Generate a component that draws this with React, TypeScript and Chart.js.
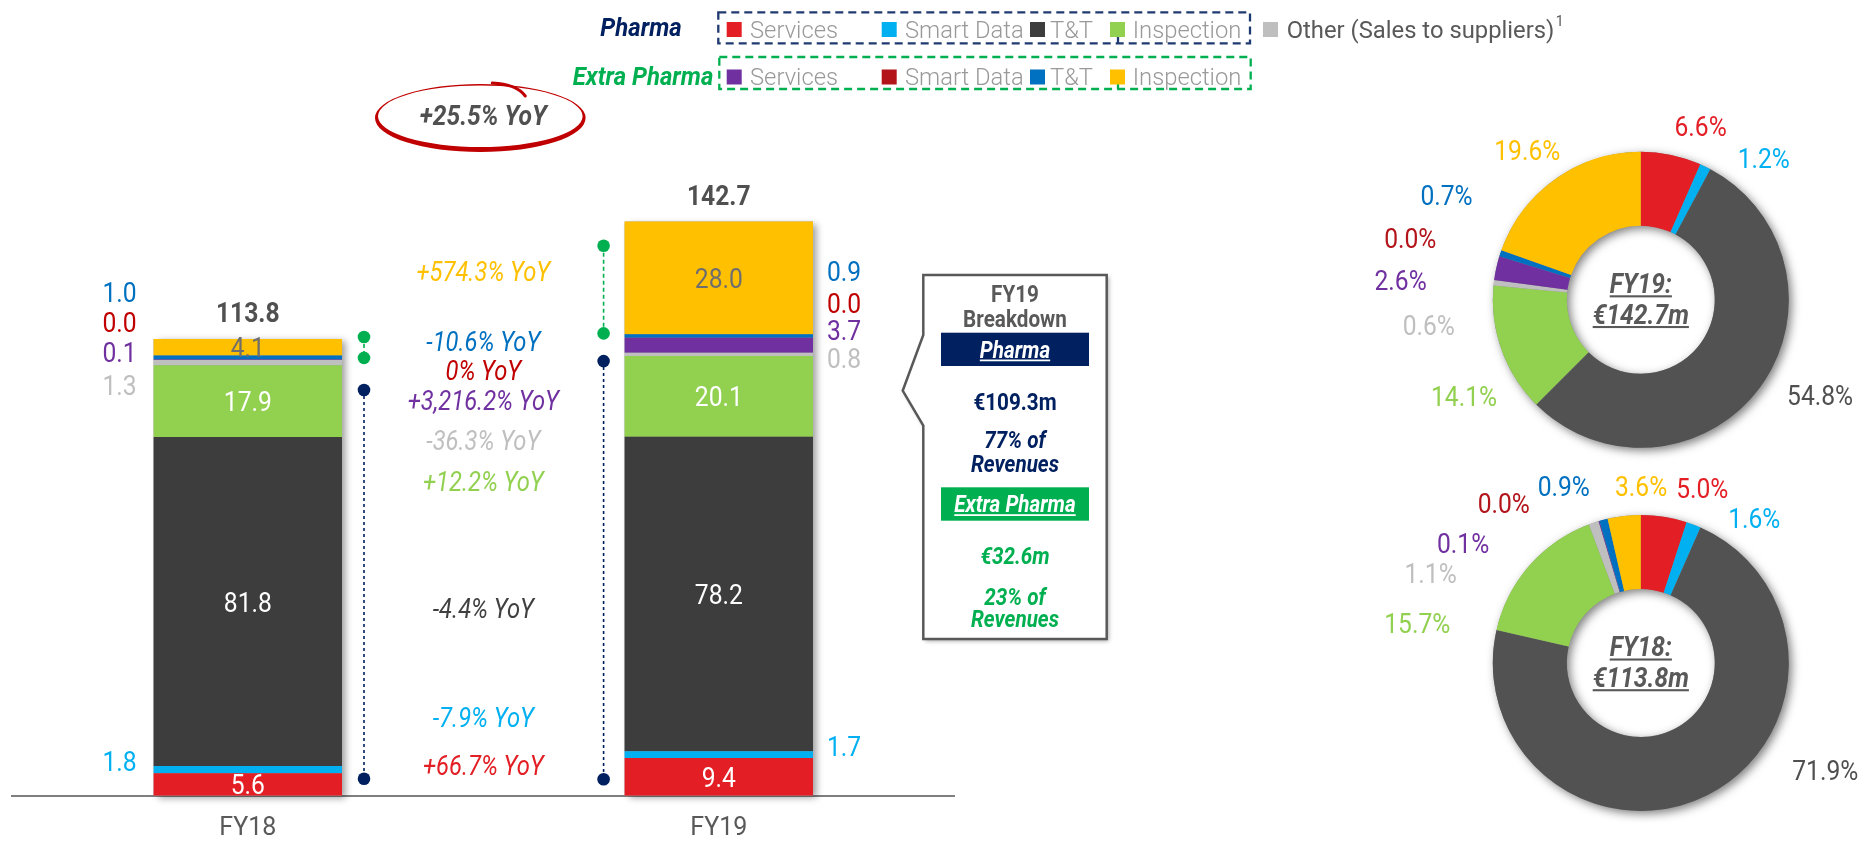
import React, { useEffect, useRef } from 'react';
import { Chart, registerables } from 'chart.js';

Chart.register(...registerables);

// ---------------- data ----------------
const categories = ['FY18', 'FY19'];
const pharmaServices = [5.6, 9.4];
const pharmaSmartData = [1.8, 1.7];
const pharmaTT = [81.8, 78.2];
const pharmaInspection = [17.9, 20.1];
const otherSales = [1.3, 0.8];
const extraServices = [0.1, 3.7];
const extraSmartData = [0.0, 0.0];
const extraTT = [1.0, 0.9];
const extraInspection = [4.1, 28.0];
const totals = [113.8, 142.7];
const yoyGrowth = ['+66.7%', '-7.9%', '-4.4%', '+12.2%', '-36.3%', '+3,216.2%', '0%', '-10.6%', '+574.3%'];
const totalGrowth = '+25.5%';
const fy19Share = [6.6, 1.2, 54.8, 14.1, 0.6, 2.6, 0.0, 0.7, 19.6];
const fy18Share = [5.0, 1.6, 71.9, 15.7, 1.1, 0.1, 0.0, 0.9, 3.6];
const breakdownSegments = ['Pharma', 'Extra Pharma'];
const breakdownValues = [109.3, 32.6];
const breakdownShares = [77, 23];
const seriesNames = ['Services', 'Smart Data', 'T&T', 'Inspection', 'Other (Sales to suppliers)', 'Services', 'Smart Data', 'T&T', 'Inspection'];
const seriesValues = [pharmaServices, pharmaSmartData, pharmaTT, pharmaInspection, otherSales, extraServices, extraSmartData, extraTT, extraInspection];

// ---------------- styles / layout ----------------
const W = 1865;
const H = 844;
const BAR_H = 861; // bar canvas is slightly taller; bottom part is clipped by the page
const FONT = 'Roboto';
const SX = 0.88;
const barColors = ['#E31E24', '#00B0F0', '#3D3D3D', '#92D050', '#BFBFBF', '#7030A0', '#B2141A', '#0070C0', '#FFC000'];
const donutColors = ['#E31E24', '#00B0F0', '#525252', '#92D050', '#BFBFBF', '#7030A0', '#B2141A', '#0070C0', '#FFC000'];
const textColors = ['#E31E24', '#00B0F0', '#404040', '#92D050', '#BFBFBF', '#7030A0', '#C00000', '#0070C0', '#FFC000'];
const donutTextColors = ['#E31E24', '#00B0F0', '#505050', '#92D050', '#BFBFBF', '#7030A0', '#B2141A', '#0070C0', '#FFC000'];
const insideLabel: (string | null)[] = ['#FFFFFF', null, '#FFFFFF', '#FFFFFF', null, null, null, null, '#6E6E6E'];
// anchors (value units) of the labels placed beside thin segments
const sideLabelY: Record<number, number>[] = [
  { 1: 8.6, 4: 102.1, 5: 110.4, 6: 117.8, 7: 125.3 },
  { 1: 12.3, 4: 108.9, 5: 115.8, 6: 122.6, 7: 130.6 },
];
const yoyY = [7.6, 19.6, 46.6, 78.1, 88.4, 98.4, 105.8, 112.9, 130.3];
const extraDots = [[114.1, 108.9], [136.8, 115.0]];
const pharmaDots = [[100.9, 4.25], [108.1, 4.1]];
const fy19LabelPos = [[59.8, -173.3], [123, -141.7], [179.3, 95], [-176.8, 96], [-212, 25], [-240.2, -19.3], [-230.5, -61.7], [-194.3, -105], [-113.5, -150]];
const fy18LabelPos = [[61.5, -174.7], [113.5, -144.7], [184.5, 107], [-223.5, -40.3], [-210.2, -90.3], [-177.7, -119.7], [-137, -159.7], [-77, -177.3], [0.3, -177.3]];

type TOpt = { size: number; weight?: number; italic?: boolean; color: string; align?: CanvasTextAlign; sx?: number; underline?: boolean };

function drawText(ctx: CanvasRenderingContext2D, s: string, x: number, y: number, o: TOpt) {
  ctx.save();
  const sx = o.sx ?? SX;
  const align = o.align ?? 'center';
  ctx.font = `${o.italic ? 'italic ' : ''}${o.weight ?? 400} ${o.size}px ${FONT}`;
  ctx.fillStyle = o.color;
  ctx.textAlign = align;
  ctx.textBaseline = 'alphabetic';
  ctx.translate(x, y + o.size * 0.355);
  ctx.scale(sx, 1);
  ctx.fillText(s, 0, 0);
  const w = ctx.measureText(s).width;
  if (o.underline) {
    const x0 = align === 'center' ? -w / 2 : align === 'right' || align === 'end' ? -w : 0;
    ctx.fillRect(x0, o.size * 0.08, w, Math.max(1.6, o.size * 0.075));
  }
  ctx.restore();
  return w * sx;
}

function drawLegend(ctx: CanvasRenderingContext2D) {
  const rows = [
    { title: 'Pharma', color: '#002060', boxColor: '#1F3A70', right: 681.7, y: 29.5, ty: 27, box: [718.3, 12.3, 1250, 43.3], idx: [0, 1, 2, 3] },
    { title: 'Extra Pharma', color: '#00B050', boxColor: '#00B050', right: 713.3, y: 77, ty: 75.5, box: [719.3, 57, 1250.7, 89], idx: [5, 6, 7, 8] },
  ];
  const sqX = [726.7, 881.7, 1030, 1110];
  const txX = [750, 905, 1050, 1132.7];
  rows.forEach((r) => {
    drawText(ctx, r.title, r.right, r.ty, { size: 26, weight: 700, italic: true, color: r.color, align: 'right', sx: 0.92 });
    ctx.save();
    ctx.setLineDash([8, 5]);
    ctx.lineWidth = 2.3;
    ctx.strokeStyle = r.boxColor;
    ctx.strokeRect(r.box[0], r.box[1], r.box[2] - r.box[0], r.box[3] - r.box[1]);
    ctx.setLineDash([]);
    ctx.beginPath();
    ctx.moveTo(1118, r.box[3] - 9);
    ctx.lineTo(1118, r.box[3]);
    ctx.stroke();
    ctx.restore();
    r.idx.forEach((d, k) => {
      ctx.fillStyle = barColors[d];
      ctx.fillRect(sqX[k], r.y - 7.5, 15, 15);
      drawText(ctx, seriesNames[d], txX[k], r.y, { size: 23.8, weight: 300, color: '#999999', align: 'left', sx: 1 });
    });
  });
  ctx.fillStyle = '#BFBFBF';
  ctx.fillRect(1263, 22, 15, 15);
  const w = drawText(ctx, seriesNames[4], 1286.7, 29.5, { size: 23.8, color: '#595959', align: 'left', sx: 1 });
  drawText(ctx, '1', 1286.7 + w + 1.5, 21, { size: 14, color: '#595959', align: 'left', sx: 1 });
}

function drawEllipse(ctx: CanvasRenderingContext2D, cx: number) {
  ctx.save();
  ctx.fillStyle = '#C00000';
  ctx.beginPath();
  ctx.ellipse(cx, 118, 105.3, 34, 0, 0, Math.PI * 2);
  ctx.closePath();
  ctx.moveTo(cx + 102.3, 116.2);
  ctx.ellipse(cx, 116.2, 102.3, 30.8, 0, 0, Math.PI * 2);
  ctx.closePath();
  ctx.fill('evenodd');
  ctx.strokeStyle = '#C00000';
  ctx.lineWidth = 3;
  ctx.lineCap = 'round';
  ctx.beginPath();
  ctx.moveTo(cx + 12, 83);
  ctx.quadraticCurveTo(cx + 36, 84, cx + 45, 96);
  ctx.stroke();
  ctx.restore();
}

function drawCallout(ctx: CanvasRenderingContext2D) {
  const L = 923.3, R = 1106.7, T = 275, B = 639;
  ctx.save();
  ctx.beginPath();
  ctx.moveTo(L, T);
  ctx.lineTo(R, T);
  ctx.lineTo(R, B);
  ctx.lineTo(L, B);
  ctx.lineTo(L, 425.7);
  ctx.lineTo(902.7, 390.7);
  ctx.lineTo(L, 335);
  ctx.closePath();
  ctx.fillStyle = '#FFFFFF';
  ctx.shadowColor = 'rgba(0,0,0,0.35)';
  ctx.shadowBlur = 4;
  ctx.shadowOffsetX = 2;
  ctx.shadowOffsetY = 2;
  ctx.fill();
  ctx.shadowColor = 'transparent';
  ctx.lineWidth = 2.5;
  ctx.strokeStyle = '#595959';
  ctx.stroke();
  ctx.restore();
  const cx = (L + R) / 2;
  const f = { size: 23.5, weight: 700 };
  drawText(ctx, categories[1], cx, 293.3, { ...f, color: '#595959' });
  drawText(ctx, 'Breakdown', cx, 318.3, { ...f, color: '#595959' });
  ctx.fillStyle = '#002060';
  ctx.fillRect(941, 332.7, 148, 33.3);
  drawText(ctx, breakdownSegments[0], cx, 349.3, { ...f, italic: true, underline: true, color: '#FFFFFF' });
  drawText(ctx, `€${breakdownValues[0].toFixed(1)}m`, cx, 401.7, { ...f, color: '#002060' });
  drawText(ctx, `${breakdownShares[0]}% of`, cx, 440, { ...f, italic: true, color: '#002060' });
  drawText(ctx, 'Revenues', cx, 463.3, { ...f, italic: true, color: '#002060' });
  ctx.fillStyle = '#00B050';
  ctx.fillRect(941, 487.3, 148, 33.4);
  drawText(ctx, breakdownSegments[1], cx, 504, { ...f, italic: true, underline: true, color: '#FFFFFF' });
  drawText(ctx, `€${breakdownValues[1].toFixed(1)}m`, cx, 556, { ...f, italic: true, color: '#00B050' });
  drawText(ctx, `${breakdownShares[1]}% of`, cx, 596.7, { ...f, italic: true, color: '#00B050' });
  drawText(ctx, 'Revenues', cx, 618.3, { ...f, italic: true, color: '#00B050' });
}

function drawDot(ctx: CanvasRenderingContext2D, x: number, y: number, color: string) {
  ctx.beginPath();
  ctx.arc(x, y, 6.3, 0, Math.PI * 2);
  ctx.fillStyle = color;
  ctx.fill();
}

function drawDotLine(ctx: CanvasRenderingContext2D, x: number, y1: number, y2: number, color: string, dash: number[]) {
  ctx.save();
  ctx.strokeStyle = color;
  ctx.lineWidth = 1.6;
  ctx.setLineDash(dash);
  ctx.beginPath();
  ctx.moveTo(x, y1);
  ctx.lineTo(x, y2);
  ctx.stroke();
  ctx.restore();
  drawDot(ctx, x, y1, color);
  drawDot(ctx, x, y2, color);
}

const barDecor = {
  id: 'barDecor',
  beforeDatasetsDraw(chart: any) {
    const ctx: CanvasRenderingContext2D = chart.ctx;
    const n = chart.data.datasets.length;
    const m0 = chart.getDatasetMeta(0);
    const mN = chart.getDatasetMeta(n - 1);
    m0.data.forEach((b0: any, i: number) => {
      const bt: any = mN.data[i];
      ctx.save();
      ctx.shadowColor = 'rgba(0,0,0,0.38)';
      ctx.shadowBlur = 7;
      ctx.shadowOffsetX = 4;
      ctx.shadowOffsetY = 2;
      ctx.fillStyle = '#999999';
      ctx.fillRect(b0.x - b0.width / 2, bt.y, b0.width, b0.base - bt.y);
      ctx.restore();
    });
  },
  afterDraw(chart: any) {
    const ctx: CanvasRenderingContext2D = chart.ctx;
    const ys = chart.scales.y;
    const xs = chart.scales.x;
    const n = chart.data.datasets.length;
    const mid = (xs.getPixelForValue(0) + xs.getPixelForValue(1)) / 2;
    // labels inside the segments
    for (let d = 0; d < n; d++) {
      const col = insideLabel[d];
      if (!col) continue;
      const meta = chart.getDatasetMeta(d);
      meta.data.forEach((bar: any, i: number) => {
        drawText(ctx, seriesValues[d][i].toFixed(1), bar.x, (bar.y + bar.base) / 2, { size: 28, color: col });
      });
    }
    // labels beside thin segments + totals
    categories.forEach((_, i) => {
      Object.keys(sideLabelY[i]).forEach((k) => {
        const d = Number(k);
        const bar: any = chart.getDatasetMeta(d).data[i];
        const lx = i === 0 ? bar.x - bar.width / 2 - 34 : bar.x + bar.width / 2 + 31;
        drawText(ctx, seriesValues[d][i].toFixed(1), lx, ys.getPixelForValue(sideLabelY[i][d]), { size: 28, color: textColors[d] });
      });
      const top: any = chart.getDatasetMeta(n - 1).data[i];
      drawText(ctx, totals[i].toFixed(1), top.x, top.y - 27, { size: 28, weight: 700, color: '#505050' });
    });
    // YoY growth column
    for (let d = 0; d < n; d++) {
      drawText(ctx, `${yoyGrowth[d]} YoY`, mid, ys.getPixelForValue(yoyY[d]), { size: 27, italic: true, color: textColors[d] });
    }
    // bracket dots
    categories.forEach((_, i) => {
      const bar: any = chart.getDatasetMeta(0).data[i];
      const dx = i === 0 ? bar.x + bar.width / 2 + 22 : bar.x - bar.width / 2 - 21;
      drawDotLine(ctx, dx, ys.getPixelForValue(pharmaDots[i][0]), ys.getPixelForValue(pharmaDots[i][1]), '#002060', [3, 3]);
      drawDotLine(ctx, dx, ys.getPixelForValue(extraDots[i][0]), ys.getPixelForValue(extraDots[i][1]), '#00B050', [4, 3]);
    });
    // total growth
    drawEllipse(ctx, mid - 3);
    drawText(ctx, `${totalGrowth} YoY`, mid, 115, { size: 28, weight: 700, italic: true, color: '#505050' });
    drawLegend(ctx);
    drawCallout(ctx);
  },
};

function makeDonutDecor(shares: number[], pos: number[][], title: string, total: number) {
  return {
    id: 'donutDecor',
    beforeDatasetsDraw(chart: any) {
      const arc: any = chart.getDatasetMeta(0).data[0];
      if (!arc) return;
      const ctx: CanvasRenderingContext2D = chart.ctx;
      ctx.save();
      ctx.shadowColor = 'rgba(0,0,0,0.5)';
      ctx.shadowBlur = 10;
      ctx.shadowOffsetX = 3;
      ctx.shadowOffsetY = 3;
      ctx.beginPath();
      ctx.arc(arc.x, arc.y, arc.outerRadius, 0, Math.PI * 2);
      ctx.moveTo(arc.x + arc.innerRadius, arc.y);
      ctx.arc(arc.x, arc.y, arc.innerRadius, 0, Math.PI * 2, true);
      ctx.fillStyle = '#888888';
      ctx.fill();
      ctx.restore();
    },
    afterDraw(chart: any) {
      const arc: any = chart.getDatasetMeta(0).data[0];
      if (!arc) return;
      const ctx: CanvasRenderingContext2D = chart.ctx;
      shares.forEach((v, i) => {
        drawText(ctx, `${v.toFixed(1)}%`, arc.x + pos[i][0], arc.y + pos[i][1], { size: 28, color: donutTextColors[i] });
      });
      drawText(ctx, `${title}:`, arc.x, arc.y - 16.7, { size: 28, weight: 700, italic: true, underline: true, color: '#595959' });
      drawText(ctx, `€${total.toFixed(1)}m`, arc.x, arc.y + 14, { size: 28, weight: 700, italic: true, underline: true, color: '#595959' });
    },
  };
}

function donutConfig(shares: number[], pos: number[][], title: string, total: number, top: number): any {
  return {
    type: 'doughnut',
    data: {
      labels: seriesNames,
      datasets: [{ data: shares, backgroundColor: donutColors, borderWidth: 0, hoverOffset: 0 }],
    },
    options: {
      responsive: false,
      animation: false,
      events: [],
      cutout: '50%',
      layout: { padding: { left: 1492.8, right: W - 1788.8, top, bottom: H - top - 296 } },
      plugins: { legend: { display: false }, tooltip: { enabled: false } },
    },
    plugins: [makeDonutDecor(shares, pos, title, total)],
  };
}

export default function App() {
  const barRef = useRef<HTMLCanvasElement>(null);
  const d19Ref = useRef<HTMLCanvasElement>(null);
  const d18Ref = useRef<HTMLCanvasElement>(null);

  useEffect(() => {
    const charts: Chart[] = [];
    charts.push(
      new Chart(barRef.current!, {
        type: 'bar',
        data: {
          labels: categories,
          datasets: seriesValues.map((vals, d) => ({
            label: seriesNames[d],
            data: vals,
            backgroundColor: barColors[d],
            borderWidth: 0,
            stack: 'all',
            categoryPercentage: 0.4,
            barPercentage: 1,
          })),
        },
        options: {
          responsive: false,
          animation: false,
          events: [],
          layout: { padding: { left: 12.3, right: W - 954.3, top: 72, bottom: 0 } },
          scales: {
            x: {
              stacked: true,
              grid: { display: false, drawTicks: false },
              border: { display: true, color: '#7F7F7F', width: 2 },
              ticks: { color: '#595959', font: { family: FONT, size: 25 }, padding: 17.6 },
            },
            y: { stacked: true, display: false, min: 0, max: 180 },
          },
          plugins: { legend: { display: false }, tooltip: { enabled: false } },
        } as any,
        plugins: [barDecor as any],
      })
    );
    charts.push(new Chart(d19Ref.current!, donutConfig(fy19Share, fy19LabelPos, categories[1], totals[1], 151.8)));
    charts.push(new Chart(d18Ref.current!, donutConfig(fy18Share, fy18LabelPos, categories[0], totals[0], 515)));
    return () => charts.forEach((c) => c.destroy());
  }, []);

  const cs: React.CSSProperties = { position: 'absolute', left: 0, top: 0, width: W, height: H };
  return (
    <div style={{ position: 'absolute', left: 0, top: 0, width: W, height: H, background: '#FFFFFF', overflow: 'hidden' }}>
      <canvas ref={barRef} width={W} height={BAR_H} style={{ ...cs, height: BAR_H }} />
      <canvas ref={d19Ref} width={W} height={H} style={cs} />
      <canvas ref={d18Ref} width={W} height={H} style={cs} />
    </div>
  );
}
